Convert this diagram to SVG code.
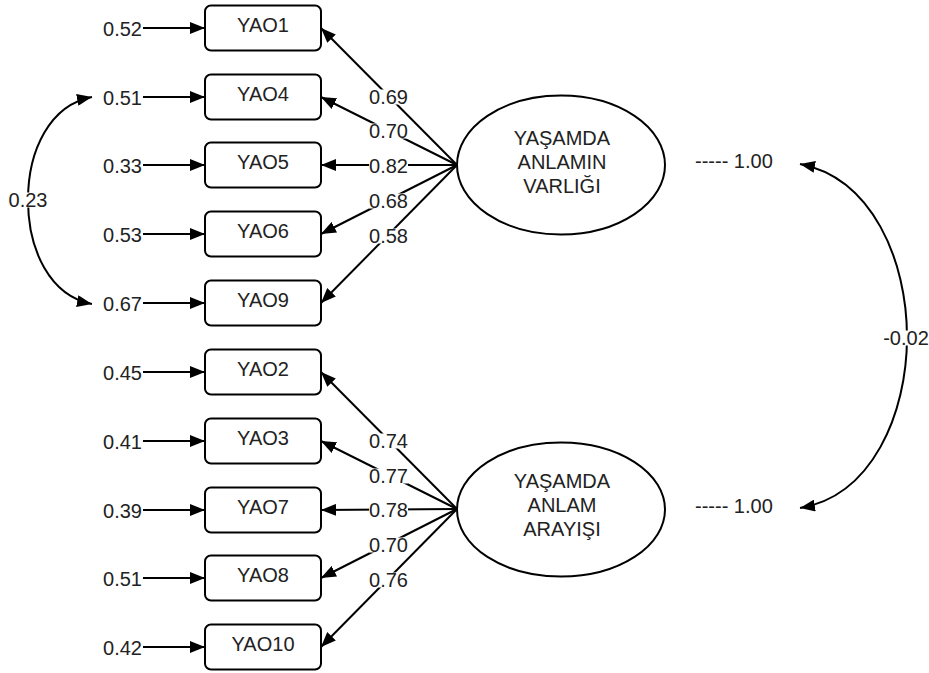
<svg xmlns="http://www.w3.org/2000/svg" width="929" height="673" viewBox="0 0 929 673">
<style>
text{font-family:"Liberation Sans",Arial,sans-serif;font-size:20px;fill:#222}
.m{text-anchor:middle}
.e{text-anchor:end}
.box{fill:#fff;stroke:#000;stroke-width:2}
.ell{fill:#fff;stroke:#000;stroke-width:2}
.ln{fill:none;stroke:#000;stroke-width:2;marker-end:url(#ah)}
.cv{fill:none;stroke:#000;stroke-width:2;marker-start:url(#ah);marker-end:url(#ah)}
.bg{fill:#fff}
</style>
<defs>
<marker id="ah" viewBox="0 0 15 12" refX="15" refY="6" markerWidth="15" markerHeight="12" markerUnits="userSpaceOnUse" orient="auto-start-reverse">
<path d="M0,0 L15,6 L0,12 z" fill="#000"/>
</marker>
</defs>
<g id="connectors">
<path class="ln" d="M143,28 H205"/>
<path class="ln" d="M143,97 H205"/>
<path class="ln" d="M143,165 H205"/>
<path class="ln" d="M143,234 H205"/>
<path class="ln" d="M143,303 H205"/>
<path class="ln" d="M143,372 H205"/>
<path class="ln" d="M143,441 H205"/>
<path class="ln" d="M143,510 H205"/>
<path class="ln" d="M143,578 H205"/>
<path class="ln" d="M143,647 H205"/>
<path class="ln" d="M457,165 L321,28"/>
<path class="ln" d="M457,165 L321,97"/>
<path class="ln" d="M457,165 L321,165"/>
<path class="ln" d="M457,165 L321,234"/>
<path class="ln" d="M457,165 L321,303"/>
<path class="ln" d="M457,509 L321,372"/>
<path class="ln" d="M457,509 L321,441"/>
<path class="ln" d="M457,509 L321,510"/>
<path class="ln" d="M457,509 L321,578"/>
<path class="ln" d="M457,509 L321,647"/>
<path class="cv" d="M92,97 C50,105 28,150 28,200 C28,250 50,296 92,304"/>
<path class="cv" d="M800,164 C872,178 907,260 907,337 C907,414 872,496 800,508"/>
<g id="loadings">
<rect class="bg" x="369" y="89.5" width="39" height="15"/><text class="m" x="388.5" y="104">0.69</text>
<rect class="bg" x="369" y="123.5" width="39" height="15"/><text class="m" x="388.5" y="138">0.70</text>
<rect class="bg" x="369" y="158.5" width="39" height="15"/><text class="m" x="388.5" y="173">0.82</text>
<rect class="bg" x="369" y="193.5" width="39" height="15"/><text class="m" x="388.5" y="208">0.68</text>
<rect class="bg" x="369" y="228.5" width="39" height="15"/><text class="m" x="388.5" y="243">0.58</text>
<rect class="bg" x="369" y="433.5" width="39" height="15"/><text class="m" x="388.5" y="448">0.74</text>
<rect class="bg" x="369" y="468.5" width="39" height="15"/><text class="m" x="388.5" y="483">0.77</text>
<rect class="bg" x="369" y="502.5" width="39" height="15"/><text class="m" x="388.5" y="517">0.78</text>
<rect class="bg" x="369" y="537.5" width="39" height="15"/><text class="m" x="388.5" y="552">0.70</text>
<rect class="bg" x="369" y="572.5" width="39" height="15"/><text class="m" x="388.5" y="587">0.76</text>
<rect class="bg" x="8" y="192.5" width="40" height="15"/><text class="m" x="28" y="207">0.23</text>
<rect class="bg" x="883" y="330.5" width="46" height="15"/><text class="m" x="906" y="345">-0.02</text>
</g>
</g>
<g id="errors">
<text class="e" x="142" y="36">0.52</text>
<text class="e" x="142" y="105">0.51</text>
<text class="e" x="142" y="173">0.33</text>
<text class="e" x="142" y="242">0.53</text>
<text class="e" x="142" y="311">0.67</text>
<text class="e" x="142" y="380">0.45</text>
<text class="e" x="142" y="449">0.41</text>
<text class="e" x="142" y="518">0.39</text>
<text class="e" x="142" y="586">0.51</text>
<text class="e" x="142" y="655">0.42</text>
</g>
<g id="YAO1"><rect class="box" x="205" y="5.5" width="116" height="45" rx="6"/><text class="m" x="263" y="32">YAO1</text></g>
<g id="YAO4"><rect class="box" x="205" y="74.5" width="116" height="45" rx="6"/><text class="m" x="263" y="101">YAO4</text></g>
<g id="YAO5"><rect class="box" x="205" y="142.5" width="116" height="45" rx="6"/><text class="m" x="263" y="169">YAO5</text></g>
<g id="YAO6"><rect class="box" x="205" y="211.5" width="116" height="45" rx="6"/><text class="m" x="263" y="238">YAO6</text></g>
<g id="YAO9"><rect class="box" x="205" y="280.5" width="116" height="45" rx="6"/><text class="m" x="263" y="307">YAO9</text></g>
<g id="YAO2"><rect class="box" x="205" y="349.5" width="116" height="45" rx="6"/><text class="m" x="263" y="376">YAO2</text></g>
<g id="YAO3"><rect class="box" x="205" y="418.5" width="116" height="45" rx="6"/><text class="m" x="263" y="445">YAO3</text></g>
<g id="YAO7"><rect class="box" x="205" y="487.5" width="116" height="45" rx="6"/><text class="m" x="263" y="514">YAO7</text></g>
<g id="YAO8"><rect class="box" x="205" y="555.5" width="116" height="45" rx="6"/><text class="m" x="263" y="582">YAO8</text></g>
<g id="YAO10"><rect class="box" x="205" y="624.5" width="116" height="45" rx="6"/><text class="m" x="263" y="651">YAO10</text></g>
<g id="F1">
<ellipse class="ell" cx="561" cy="165" rx="104" ry="69.5"/>
<text class="m" x="562" y="145">YAŞAMDA</text>
<text class="m" x="562" y="169">ANLAMIN</text>
<text class="m" x="562" y="193">VARLIĞI</text>
<text x="695" y="168">----- 1.00</text>
</g>
<g id="F2">
<ellipse class="ell" cx="561" cy="509.5" rx="104" ry="67"/>
<text class="m" x="562" y="488">YAŞAMDA</text>
<text class="m" x="562" y="512">ANLAM</text>
<text class="m" x="562" y="536">ARAYIŞI</text>
<text x="695" y="513">----- 1.00</text>
</g>
</svg>
